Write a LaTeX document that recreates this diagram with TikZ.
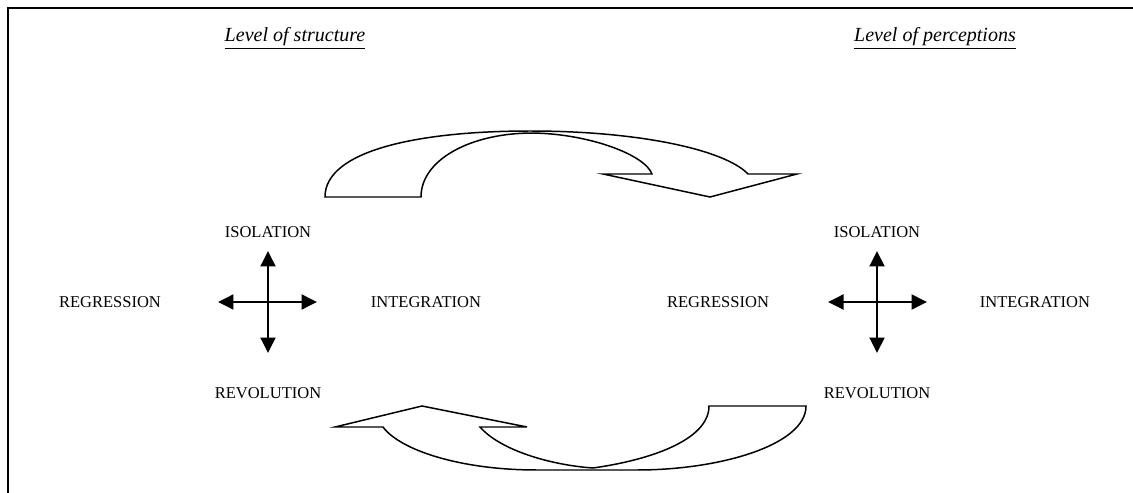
\documentclass[tikz,border=0pt]{standalone}
\usepackage{fontspec}
\setmainfont{Liberation Serif}
\usepackage{tikz}
\usetikzlibrary{arrows.meta}

\begin{document}
\begin{tikzpicture}[x=0.02cm,y=-0.02cm,>={Triangle[length=3.1mm 0,width=3mm 0]},
    lbl/.style={font=\fontsize{9.4}{11}\selectfont,inner sep=1pt},
    ttl/.style={font=\fontsize{11.4}{13}\selectfont\itshape,inner sep=1pt},
    cross/.style={<->,line width=1.1pt},
    turn/.style={draw,fill=white,line width=0.85pt,line join=miter}]
  \useasboundingbox (0,0) rectangle (1133,493);
  \draw[line width=1.1pt] (1133,8) -- (8,8) -- (8,493);

  % titles
  \node[ttl] (tstruct) at (295,38) {\underline{Level of structure}};
  \node[ttl] (tperc) at (935,38) {\underline{Level of perceptions}};

  % structure side
  \node[lbl] (sIso) at (268,232) {ISOLATION};
  \node[lbl] (sReg) at (110,302) {REGRESSION};
  \node[lbl] (sInt) at (426,302) {INTEGRATION};
  \node[lbl] (sRev) at (268,393) {REVOLUTION};
  \coordinate (sN) at (268,251); \coordinate (sS) at (268,353);
  \coordinate (sW) at (218,302); \coordinate (sE) at (317,302);
  \draw[cross] (sN) -- (sS);
  \draw[cross] (sW) -- (sE);

  % perception side
  \node[lbl] (pIso) at (877,232) {ISOLATION};
  \node[lbl] (pReg) at (718,302) {REGRESSION};
  \node[lbl] (pInt) at (1035,302) {INTEGRATION};
  \node[lbl] (pRev) at (877,393) {REVOLUTION};
  \coordinate (pN) at (877,251); \coordinate (pS) at (877,353);
  \coordinate (pW) at (828,302); \coordinate (pE) at (927,302);
  \draw[cross] (pN) -- (pS);
  \draw[cross] (pW) -- (pE);

  % upper turning arrow
  \draw[turn] (325,197) .. controls (325,150) and (420,131) .. (530,131)
    .. controls (640,131) and (725,150) .. (748,174)
    -- (797,174) -- (710,197) -- (603,174) -- (652,174)
    .. controls (645,155) and (590,134) .. (533,133)
    .. controls (470,133) and (421,160) .. (421,197) -- cycle;

  % lower turning arrow
  \draw[turn] (806,406) .. controls (806,445) and (720,470) .. (637,470)
    -- (537,470) .. controls (460,470) and (400,450) .. (383,427)
    -- (335,427) -- (422,406) -- (527,427) -- (480,427)
    .. controls (500,450) and (550,465) .. (593,468)
    .. controls (650,460) and (709,440) .. (709,406) -- cycle;
\end{tikzpicture}
\end{document}
